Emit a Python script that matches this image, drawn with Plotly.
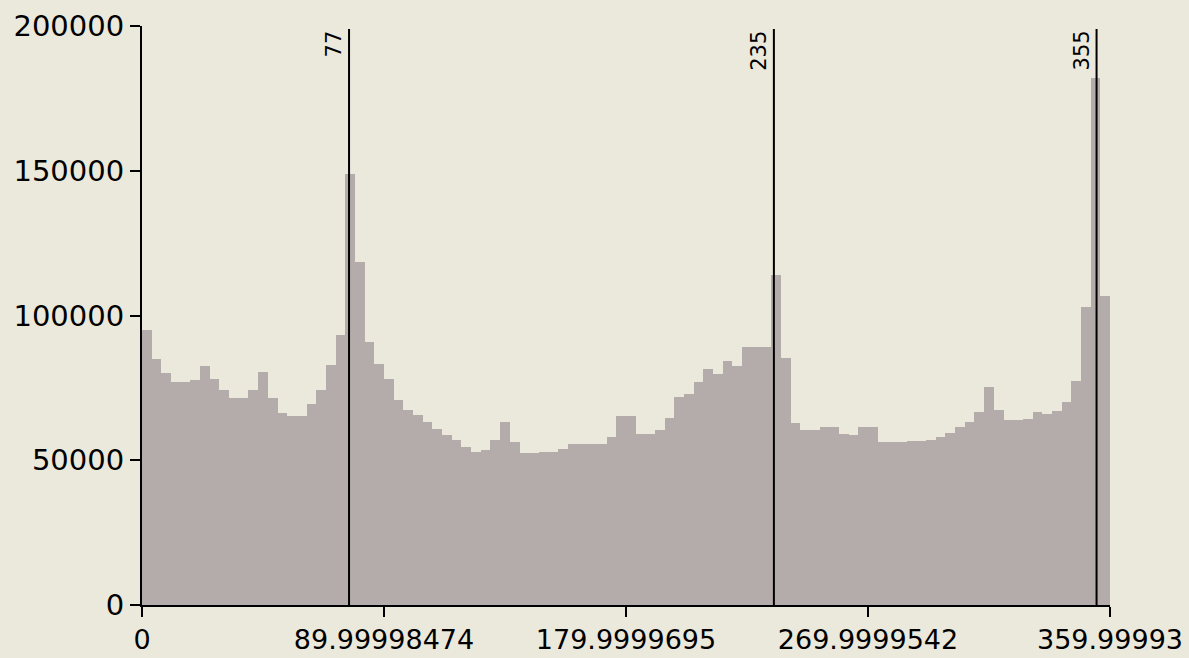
import plotly.graph_objects as go

# Histogram counts per 3.6-degree bin (0 .. 360)
counts = [
    95000, 85000, 80000, 77200, 77000, 77800, 82400, 78000, 74100, 71600,
    71600, 74100, 80500, 71600, 66200, 65200, 65200, 69600, 74100, 82800,
    93100, 149000, 118600, 90800, 83300, 78200, 70700, 67200, 65500, 63200,
    60900, 58600, 56900, 54600, 52900, 53400, 56900, 63200, 56300, 52400,
    52500, 52700, 53000, 54000, 55700, 55700, 55700, 55700, 58000, 65200,
    65200, 59200, 59200, 60300, 64600, 71800, 73000, 77000, 81600, 79900,
    84200, 82400, 89100, 89100, 89100, 114000, 85400, 62900, 60300, 60500,
    61500, 61500, 59200, 58600, 61500, 61500, 56300, 56300, 56300, 56500,
    56500, 57000, 58000, 59300, 61500, 63200, 66700, 75300, 67200, 63800,
    63800, 64400, 66700, 66000, 67000, 70100, 77400, 102900, 182200, 106900,
]
x_min, x_max = 0.0, 360.0
break_values = [77, 235, 355]
break_labels = ["77", "235", "355"]
x_tickvals = [0, 89.99998474, 179.9999695, 269.9999542, 359.99993]
x_ticktext = ["0", "89.99998474", "179.9999695", "269.9999542", "359.99993"]
y_tickvals = [0, 50000, 100000, 150000, 200000]
y_ticktext = ["0", "50000", "100000", "150000", "200000"]

bw = (x_max - x_min) / len(counts)
centers = [x_min + (i + 0.5) * bw for i in range(len(counts))]

BG = "#ebe8dc"
BAR = "#b4acab"
FONT = "DejaVu Sans"

fig = go.Figure()
fig.add_trace(go.Bar(
    x=centers, y=counts, width=bw,
    marker=dict(color=BAR, line=dict(width=0)),
    hoverinfo="x+y",
))

for v, lab in zip(break_values, break_labels):
    fig.add_shape(type="line", xref="x", yref="y", x0=v, x1=v, y0=0, y1=199000,
                  line=dict(color="black", width=2))
    fig.add_annotation(x=v, y=199000, xref="x", yref="y", text=lab,
                       textangle=-90, showarrow=False, xanchor="right",
                       yanchor="top", xshift=-1,
                       font=dict(family=FONT, size=21, color="black"))

fig.update_layout(
    width=1189, height=658,
    margin=dict(l=142, r=79, t=26, b=53),
    paper_bgcolor=BG, plot_bgcolor=BG,
    bargap=0, showlegend=False,
    font=dict(family=FONT, size=29, color="black"),
)
fig.update_xaxes(range=[x_min, x_max], tickvals=x_tickvals, ticktext=x_ticktext,
                 showgrid=False, zeroline=False, showline=True, linecolor="black",
                 linewidth=2, ticks="outside", ticklen=10, tickwidth=2,
                 tickcolor="black", tickfont=dict(family=FONT, size=27),
                 automargin=False)
fig.update_yaxes(range=[0, 200000], tickvals=y_tickvals, ticktext=y_ticktext,
                 showgrid=False, zeroline=False, showline=True, linecolor="black",
                 linewidth=2, ticks="outside", ticklen=10, tickwidth=2,
                 tickcolor="black", tickfont=dict(family=FONT, size=29),
                 automargin=False)

page_fix = (
    "document.body.style.margin='0';"
    "document.body.style.overflow='hidden';"
    "document.body.style.background='" + BG + "';"
)
fig.write_html("out.html", post_script=page_fix,
               config={"displayModeBar": False})
